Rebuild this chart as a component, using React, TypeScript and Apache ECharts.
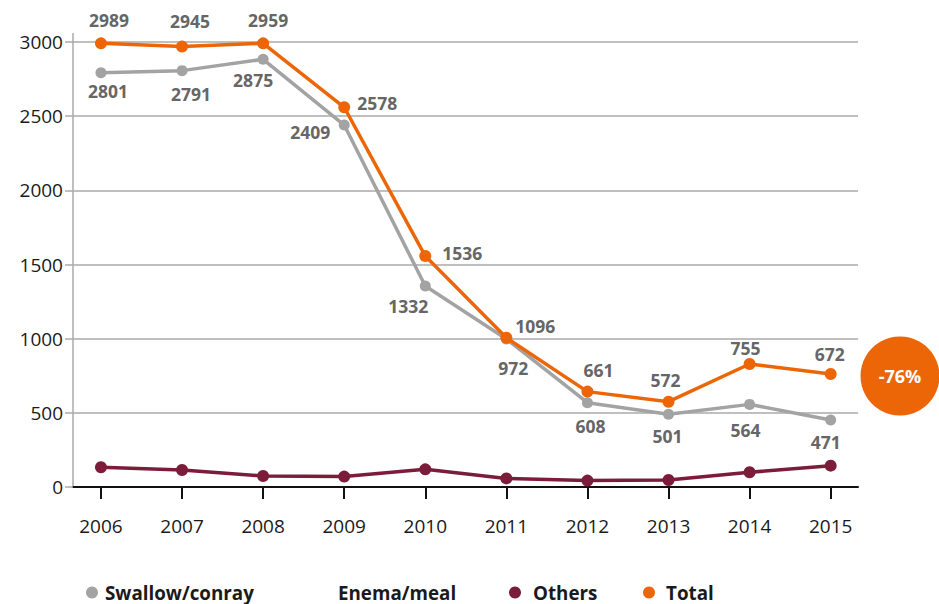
import React, { useEffect, useRef } from "react";
import * as echarts from "echarts";

const years = [2006, 2007, 2008, 2009, 2010, 2011, 2012, 2013, 2014, 2015];
const swallowValues = [2793, 2807, 2883, 2440, 1355, 998, 568, 490, 557, 452];
const swallowLabels = ["2801", "2791", "2875", "2409", "1332", "972", "608", "501", "564", "471"];
const othersValues = [133, 115, 74, 70, 119, 58, 43, 47, 99, 144];
const totalValues = [2991, 2969, 2991, 2560, 1557, 1006, 643, 575, 829, 762];
const totalLabels = ["2989", "2945", "2959", "2578", "1536", "1096", "661", "572", "755", "672"];
const yTicks = [0, 500, 1000, 1500, 2000, 2500, 3000];
const changeText = "-76%";

// label placement (styling only)
const totalLabelOffsets = [
  [8, -23], [8, -26], [5, -23], [33, -4], [37, -3], [29, -12], [11, -22], [-3, -22], [-4, -16], [-1, -20],
];
const swallowLabelOffsets = [
  [7, 18], [9, 23], [-10, 21], [-34, 7], [-17, 20], [7, 29], [3, 23], [-1, 22], [-4, 26], [-5, 22],
];

const FONT = "'Open Sans', 'Noto Sans', sans-serif";
const ORANGE = "#ec6608";
const GRAY = "#a3a3a3";
const MAROON = "#7b1c3b";
const LABEL = "#666666";

function labeled(values: number[], labels: string[], offsets: number[][]) {
  return values.map((v, i) => ({
    value: [years[i], v],
    label: {
      show: true,
      position: "inside",
      offset: offsets[i],
      formatter: labels[i],
      color: LABEL,
      fontFamily: FONT,
      fontSize: 17.5,
      fontWeight: "bold",
      align: "center",
      verticalAlign: "middle",
    },
  }));
}

export default function App() {
  const ref = useRef<HTMLDivElement>(null);
  useEffect(() => {
    if (!ref.current) return;
    const chart = echarts.init(ref.current, null, { renderer: "svg" });
    const legendBase = {
      orient: "horizontal",
      top: 583,
      padding: 0,
      itemWidth: 12,
      itemHeight: 12,
      icon: "circle",
      selectedMode: false,
    };
    const legendText = (pad: number) => ({
      fontFamily: FONT,
      fontSize: 18.8,
      fontWeight: "bold",
      color: "#1a1a1a",
      padding: [0, 0, 0, pad],
    });
    chart.setOption({
      animation: false,
      backgroundColor: "#ffffff",
      textStyle: { fontFamily: FONT },
      grid: { left: 73, right: 81, top: 42, bottom: 117, containLabel: false },
      xAxis: {
        type: "value",
        min: 2005.655,
        max: 2015.337,
        splitLine: { show: false },
        axisLine: { show: true, lineStyle: { color: "#111", width: 2 } },
        axisTick: {
          show: true,
          length: 12,
          customValues: years,
          lineStyle: { color: "#111", width: 2 },
        },
        axisLabel: {
          customValues: years,
          formatter: (v: number) => String(v),
          fontFamily: FONT,
          fontSize: 19,
          color: "#1a1a1a",
          margin: 29,
        },
      },
      yAxis: {
        type: "value",
        min: 0,
        max: 3000,
        interval: 500,
        axisLine: { show: true, lineStyle: { color: "#aaaaaa", width: 1.5 } },
        axisTick: { show: true, length: 8, lineStyle: { color: "#aaaaaa", width: 1.5 } },
        splitLine: { show: true, lineStyle: { color: "#aaaaaa", width: 1.5 } },
        axisLabel: {
          customValues: yTicks,
          formatter: (v: number) => String(v),
          fontFamily: FONT,
          fontSize: 19,
          color: "#1a1a1a",
          margin: 10,
        },
      },
      legend: [
        { ...legendBase, left: 86, data: ["Swallow/conray"], textStyle: legendText(2) },
        { ...legendBase, left: 321, data: ["Enema/meal"], textStyle: legendText(0) },
        { ...legendBase, left: 509, data: ["Others"], textStyle: legendText(7) },
        { ...legendBase, left: 643, data: ["Total"], textStyle: legendText(6) },
      ],
      series: [
        {
          name: "Swallow/conray",
          type: "line",
          data: labeled(swallowValues, swallowLabels, swallowLabelOffsets),
          symbol: "circle",
          symbolSize: 11,
          lineStyle: { color: GRAY, width: 3.5 },
          itemStyle: { color: GRAY },
          z: 3,
        },
        {
          name: "Enema/meal",
          type: "line",
          data: [],
          itemStyle: { color: "rgba(0,0,0,0)" },
          lineStyle: { color: "rgba(0,0,0,0)" },
        },
        {
          name: "Others",
          type: "line",
          data: othersValues.map((v, i) => [years[i], v]),
          symbol: "circle",
          symbolSize: 12,
          lineStyle: { color: MAROON, width: 3.5 },
          itemStyle: { color: MAROON },
          z: 4,
        },
        {
          name: "Total",
          type: "line",
          data: labeled(totalValues, totalLabels, totalLabelOffsets),
          symbol: "circle",
          symbolSize: 12,
          lineStyle: { color: ORANGE, width: 3.5 },
          itemStyle: { color: ORANGE },
          z: 5,
        },
      ],
      graphic: [
        {
          type: "line",
          shape: { x1: 73, y1: 33, x2: 73, y2: 42 },
          style: { stroke: "#aaaaaa", lineWidth: 1.5 },
        },
        {
          type: "circle",
          shape: { cx: 900, cy: 376, r: 39.5 },
          style: { fill: ORANGE },
        },
        {
          type: "text",
          x: 900,
          y: 376,
          style: {
            text: changeText,
            fill: "#ffffff",
            font: `bold 18px ${FONT}`,
            align: "center",
            verticalAlign: "middle",
          },
        },
      ],
    });
    return () => chart.dispose();
  }, []);
  return (
    <div
      ref={ref}
      style={{ position: "fixed", left: 0, top: 0, width: 939, height: 604 }}
    />
  );
}
